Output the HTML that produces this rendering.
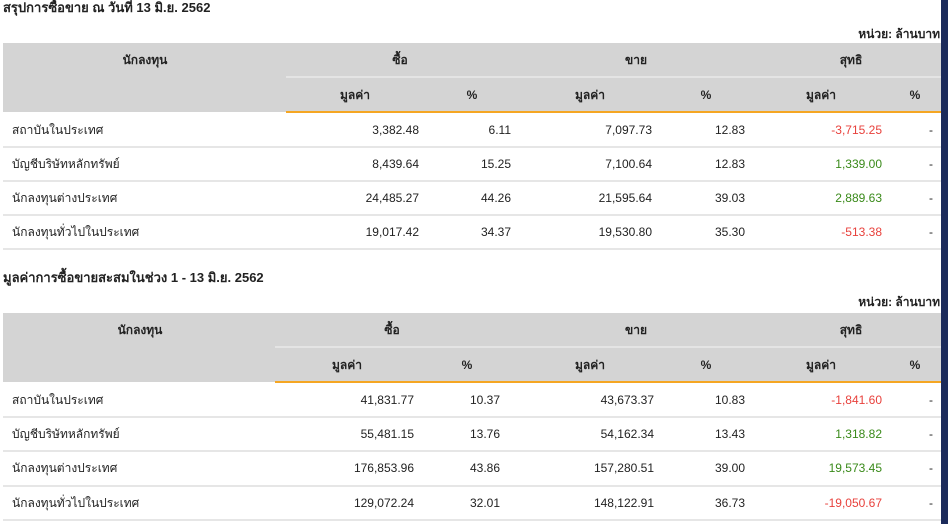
<!DOCTYPE html>
<html><head><meta charset="utf-8"><style>
*{margin:0;padding:0;box-sizing:border-box}
body{width:948px;height:524px;background:#fff;position:relative;overflow:hidden;font-family:"Liberation Sans","Noto Sans CJK SC","WenQuanYi Zen Hei",sans-serif;font-size:12px;color:#222}
.a{position:absolute;white-space:nowrap;line-height:20px;height:20px}
.b{font-weight:bold}
.t{font-size:13px}
.r{text-align:right}
.c{text-align:center}
.bg{position:absolute;background:#d4d4d4}
.ln{position:absolute;height:2px}
.red{color:#e8413c}.grn{color:#3a8a1a}
</style></head><body>
<div style="position:absolute;right:0;top:0;width:7px;height:524px;background:#1b2a5a"></div>

<div class="a b t" style="left:3px;top:-2px">สรุปการซื้อขาย ณ วันที่ 13 มิ.ย. 2562</div>
<div class="a b r" style="right:8px;top:24px">หน่วย: ล้านบาท</div>
<div class="bg" style="left:3px;top:43px;width:938px;height:69px"></div>
<div class="ln" style="left:286px;top:76px;width:655px;background:#e4e4e4"></div>
<div class="ln" style="left:286px;top:111px;width:655px;background:#f5a623"></div>
<div class="ln" style="left:3px;top:146px;width:938px;background:#e6e6e6"></div>
<div class="ln" style="left:3px;top:180px;width:938px;background:#e6e6e6"></div>
<div class="ln" style="left:3px;top:214px;width:938px;background:#e6e6e6"></div>
<div class="ln" style="left:3px;top:248px;width:938px;background:#e6e6e6"></div>
<div class="a b c" style="left:45px;width:200px;top:50px">นักลงทุน</div>
<div class="a b c" style="left:350px;width:100px;top:50px">ซื้อ</div>
<div class="a b c" style="left:586px;width:100px;top:50px">ขาย</div>
<div class="a b c" style="left:801px;width:100px;top:50px">สุทธิ</div>
<div class="a b c" style="left:305px;width:100px;top:85px">มูลค่า</div>
<div class="a b c" style="left:422px;width:100px;top:85px">%</div>
<div class="a b c" style="left:540px;width:100px;top:85px">มูลค่า</div>
<div class="a b c" style="left:656px;width:100px;top:85px">%</div>
<div class="a b c" style="left:771px;width:100px;top:85px">มูลค่า</div>
<div class="a b c" style="left:865px;width:100px;top:85px">%</div>

<div class="a" style="left:12px;top:120px">สถาบันในประเทศ</div>
<div class="a" style="left:12px;top:154px">บัญชีบริษัทหลักทรัพย์</div>
<div class="a" style="left:12px;top:188px">นักลงทุนต่างประเทศ</div>
<div class="a" style="left:12px;top:222px">นักลงทุนทั่วไปในประเทศ</div>
<div class="a r" style="right:529px;top:120px">3,382.48</div>
<div class="a r" style="right:529px;top:154px">8,439.64</div>
<div class="a r" style="right:529px;top:188px">24,485.27</div>
<div class="a r" style="right:529px;top:222px">19,017.42</div>
<div class="a r" style="right:437px;top:120px">6.11</div>
<div class="a r" style="right:437px;top:154px">15.25</div>
<div class="a r" style="right:437px;top:188px">44.26</div>
<div class="a r" style="right:437px;top:222px">34.37</div>
<div class="a r" style="right:296px;top:120px">7,097.73</div>
<div class="a r" style="right:296px;top:154px">7,100.64</div>
<div class="a r" style="right:296px;top:188px">21,595.64</div>
<div class="a r" style="right:296px;top:222px">19,530.80</div>
<div class="a r" style="right:203px;top:120px">12.83</div>
<div class="a r" style="right:203px;top:154px">12.83</div>
<div class="a r" style="right:203px;top:188px">39.03</div>
<div class="a r" style="right:203px;top:222px">35.30</div>
<div class="a r red" style="right:66px;top:120px">-3,715.25</div>
<div class="a r grn" style="right:66px;top:154px">1,339.00</div>
<div class="a r grn" style="right:66px;top:188px">2,889.63</div>
<div class="a r red" style="right:66px;top:222px">-513.38</div>
<div class="a" style="left:929px;top:120px">-</div>
<div class="a" style="left:929px;top:154px">-</div>
<div class="a" style="left:929px;top:188px">-</div>
<div class="a" style="left:929px;top:222px">-</div>

<div class="a b t" style="left:3px;top:268px">มูลค่าการซื้อขายสะสมในช่วง 1 - 13 มิ.ย. 2562</div>
<div class="a b r" style="right:8px;top:292px">หน่วย: ล้านบาท</div>
<div class="bg" style="left:3px;top:313px;width:938px;height:69px"></div>
<div class="ln" style="left:275px;top:346px;width:666px;background:#e4e4e4"></div>
<div class="ln" style="left:275px;top:381px;width:666px;background:#f5a623"></div>
<div class="ln" style="left:3px;top:416px;width:938px;background:#e6e6e6"></div>
<div class="ln" style="left:3px;top:450px;width:938px;background:#e6e6e6"></div>
<div class="ln" style="left:3px;top:485px;width:938px;background:#e6e6e6"></div>
<div class="ln" style="left:3px;top:519px;width:938px;background:#e6e6e6"></div>
<div class="a b c" style="left:40px;width:200px;top:320px">นักลงทุน</div>
<div class="a b c" style="left:342px;width:100px;top:320px">ซื้อ</div>
<div class="a b c" style="left:586px;width:100px;top:320px">ขาย</div>
<div class="a b c" style="left:801px;width:100px;top:320px">สุทธิ</div>
<div class="a b c" style="left:297px;width:100px;top:355px">มูลค่า</div>
<div class="a b c" style="left:417px;width:100px;top:355px">%</div>
<div class="a b c" style="left:540px;width:100px;top:355px">มูลค่า</div>
<div class="a b c" style="left:656px;width:100px;top:355px">%</div>
<div class="a b c" style="left:771px;width:100px;top:355px">มูลค่า</div>
<div class="a b c" style="left:865px;width:100px;top:355px">%</div>

<div class="a" style="left:12px;top:390px">สถาบันในประเทศ</div>
<div class="a" style="left:12px;top:424px">บัญชีบริษัทหลักทรัพย์</div>
<div class="a" style="left:12px;top:458px">นักลงทุนต่างประเทศ</div>
<div class="a" style="left:12px;top:493px">นักลงทุนทั่วไปในประเทศ</div>
<div class="a r" style="right:534px;top:390px">41,831.77</div>
<div class="a r" style="right:534px;top:424px">55,481.15</div>
<div class="a r" style="right:534px;top:458px">176,853.96</div>
<div class="a r" style="right:534px;top:493px">129,072.24</div>
<div class="a r" style="right:448px;top:390px">10.37</div>
<div class="a r" style="right:448px;top:424px">13.76</div>
<div class="a r" style="right:448px;top:458px">43.86</div>
<div class="a r" style="right:448px;top:493px">32.01</div>
<div class="a r" style="right:294px;top:390px">43,673.37</div>
<div class="a r" style="right:294px;top:424px">54,162.34</div>
<div class="a r" style="right:294px;top:458px">157,280.51</div>
<div class="a r" style="right:294px;top:493px">148,122.91</div>
<div class="a r" style="right:203px;top:390px">10.83</div>
<div class="a r" style="right:203px;top:424px">13.43</div>
<div class="a r" style="right:203px;top:458px">39.00</div>
<div class="a r" style="right:203px;top:493px">36.73</div>
<div class="a r red" style="right:66px;top:390px">-1,841.60</div>
<div class="a r grn" style="right:66px;top:424px">1,318.82</div>
<div class="a r grn" style="right:66px;top:458px">19,573.45</div>
<div class="a r red" style="right:66px;top:493px">-19,050.67</div>
<div class="a" style="left:929px;top:390px">-</div>
<div class="a" style="left:929px;top:424px">-</div>
<div class="a" style="left:929px;top:458px">-</div>
<div class="a" style="left:929px;top:493px">-</div>
</body></html>
